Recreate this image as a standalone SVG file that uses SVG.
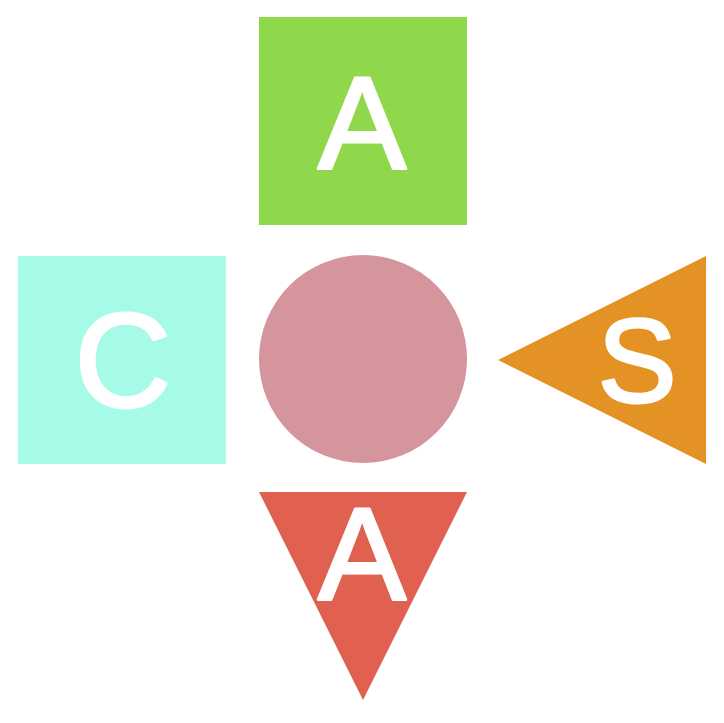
<svg xmlns="http://www.w3.org/2000/svg" width="724" height="723" viewBox="0 0 724 723">
<style>
.lbl{font-family:"Liberation Sans",Arial,sans-serif;fill:#ffffff;stroke:#ffffff;stroke-width:3;stroke-linejoin:round;text-anchor:middle}
</style>
<rect width="724" height="723" fill="#ffffff"/>
<g id="node-top">
<rect x="259" y="17" width="208" height="208" fill="#8fd84c"/>
<text class="lbl" x="362" y="169" font-size="132">A</text>
</g>
<g id="node-left">
<rect x="18" y="256" width="208" height="208" fill="#a6fbe8"/>
<text class="lbl" x="123" y="407" font-size="134">C</text>
</g>
<g id="node-right">
<polygon points="498,360 706,256 706,464" fill="#e59224"/>
<text class="lbl" x="637" y="402" font-size="118">S</text>
</g>
<g id="node-center">
<circle cx="363" cy="359" r="104" fill="#d4959c"/>
</g>
<g id="node-bottom">
<polygon points="259,492 467,492 363,700" fill="#e06150"/>
<text class="lbl" x="362" y="600" font-size="132">A</text>
</g>
<g id="connectors"></g>
</svg>
